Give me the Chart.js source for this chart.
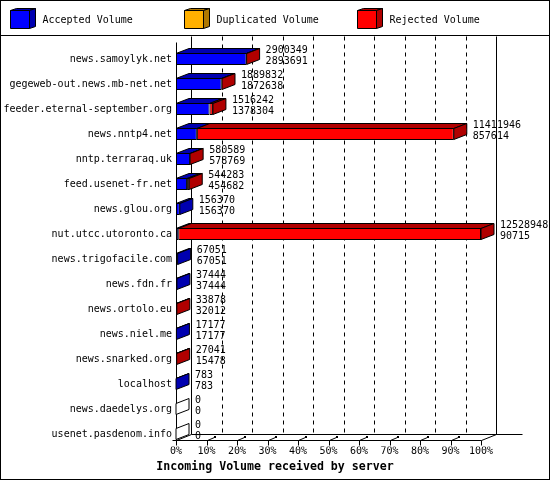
<!DOCTYPE html>
<html>
<head>
<meta charset="utf-8">
<title>Incoming Volume received by server</title>
<script src="https://cdn.jsdelivr.net/npm/chart.js@4.4.0/dist/chart.umd.min.js"></script>
<style>
	html, body { margin: 0; padding: 0; background: #fff; overflow: hidden; }
	canvas { display: block; }
</style>
</head>
<body>
<canvas id="showVolume" width="550" height="480"></canvas>
<script>
// servers, in the order of the report (sorted by accepted volume)
var servers = [
	"news.samoylyk.net",
	"gegeweb-out.news.mb-net.net",
	"feeder.eternal-september.org",
	"news.nntp4.net",
	"nntp.terraraq.uk",
	"feed.usenet-fr.net",
	"news.glou.org",
	"nut.utcc.utoronto.ca",
	"news.trigofacile.com",
	"news.fdn.fr",
	"news.ortolo.eu",
	"news.niel.me",
	"news.snarked.org",
	"localhost",
	"news.daedelys.org",
	"usenet.pasdenom.info"
];

// incoming volume (upper number next to each bar)
var totalVolume = [2900349, 1889832, 1516242, 11411946, 580589, 544283, 156370, 12528948,
	67051, 37444, 33878, 17177, 27041, 783, 0, 0];

// accepted volume (lower number next to each bar)
var acceptedVolume = [2893691, 1872638, 1378304, 857614, 578769, 454682, 156370, 90715,
	67051, 37444, 32012, 17177, 15478, 783, 0, 0];

// nothing duplicated in this report
var duplicatedVolume = [0, 0, 0, 0, 0, 0, 0, 0, 0, 0, 0, 0, 0, 0, 0, 0];

var tickLabels = ["0%", "10%", "20%", "30%", "40%", "50%", "60%", "70%", "80%", "90%", "100%"];

var seriesNames = ["Accepted Volume", "Duplicated Volume", "Rejected Volume"];
var seriesColors = ["#0000ff", "#ffb000", "#ff0000"];
var seriesShades = ["#0000b0", "#b07800", "#b00000"];

var axisTitle = "Incoming Volume received by server";

// rejected = what is left of the incoming volume
var rejectedVolume = totalVolume.map((t, i) => t - acceptedVolume[i] - duplicatedVolume[i]);
var maxVolume = Math.max(...totalVolume);

const monoFont = '"DejaVu Sans Mono", "Liberation Mono", monospace';
const barThick = 12;
const barDepth = { dx: 13, dy: -5 };
const frameDepth = { dx: 15, dy: -6 };

// small drawing helpers
function line(ctx, x1, y1, x2, y2) {
	ctx.beginPath();
	ctx.moveTo(x1, y1);
	ctx.lineTo(x2, y2);
	ctx.stroke();
}

function poly(ctx, pts, fill) {
	ctx.beginPath();
	ctx.moveTo(pts[0][0], pts[0][1]);
	for (var k = 1; k < pts.length; k++) {
		ctx.lineTo(pts[k][0], pts[k][1]);
	}
	ctx.closePath();
	if (fill) {
		ctx.fillStyle = fill;
		ctx.fill();
	}
	ctx.stroke();
}

function crisp(v) {
	return Math.round(v) + 0.5;
}

// 3d box behind the bars: back walls, floor, dashed grid, ticks
var framePlugin = {
	id: "frame3d",
	beforeDraw(chart) {
		var ctx = chart.ctx;
		ctx.save();
		ctx.fillStyle = "#fff";
		ctx.fillRect(0, 0, chart.width, chart.height);
		ctx.restore();
	},
	beforeDatasetsDraw(chart) {
		var ctx = chart.ctx;
		var xs = chart.scales.x, ys = chart.scales.y;
		var dx = frameDepth.dx, dy = frameDepth.dy;
		var left = crisp(xs.getPixelForValue(0));
		var right = crisp(xs.getPixelForValue(maxVolume));
		var floorY = crisp(ys.getPixelForValue(servers.length - 1) + barThick / 2);
		var backY = floorY + dy;
		var topY = 36.5;

		ctx.save();
		ctx.strokeStyle = "#000";
		ctx.lineWidth = 1;

		// walls
		line(ctx, left + dx, topY, left + dx, backY);
		line(ctx, right + dx, topY, right + dx, backY);
		line(ctx, left, topY - dy, left, floorY);

		// floor
		line(ctx, left + dx, backY, right + dx + 26, backY);
		line(ctx, left, floorY, right, floorY);
		line(ctx, left, floorY, left + dx, backY);
		line(ctx, right, floorY, right + dx, backY);
		line(ctx, left - 4, floorY, left, floorY);

		// dashed grid on the back wall
		ctx.setLineDash([4, 4]);
		xs.ticks.forEach((t) => {
			if (t.value > 0 && t.value < maxVolume) {
				var gx = crisp(xs.getPixelForValue(t.value)) + dx;
				line(ctx, gx, topY, gx, backY);
			}
		});
		ctx.setLineDash([]);

		// tick marks on the front edge
		ctx.fillStyle = "#000";
		xs.ticks.forEach((t) => {
			var tx = crisp(xs.getPixelForValue(t.value));
			line(ctx, tx, floorY, tx, floorY + 5);
			if (t.value > 0 && t.value < maxVolume) {
				line(ctx, tx, floorY, tx + 7, floorY - 3);
				ctx.fillRect(tx + 6.5, floorY - 4.5, 2, 2);
			}
		});
		ctx.restore();
	},
	afterDatasetsDraw(chart) {
		var ctx = chart.ctx;
		var xs = chart.scales.x, ys = chart.scales.y;
		var dx = barDepth.dx, dy = barDepth.dy;
		var series = [acceptedVolume, duplicatedVolume, rejectedVolume];

		ctx.save();
		ctx.strokeStyle = "#000";
		ctx.lineWidth = 1;
		ctx.font = "10px " + monoFont;
		ctx.textAlign = "left";
		ctx.textBaseline = "middle";

		for (var i = 0; i < servers.length; i++) {
			var yc = ys.getPixelForValue(i);
			var top = yc - barThick / 2 + 0.5;
			var bot = top + barThick - 1;
			var cum = 0;
			var last = -1;
			var endX = xs.getPixelForValue(0);

			// top faces, one per stacked segment
			for (var d = 0; d < series.length; d++) {
				var v = series[d][i];
				if (v > 0) {
					var x0 = xs.getPixelForValue(cum);
					var x1 = xs.getPixelForValue(cum + v);
					poly(ctx, [[x0, top], [x1, top], [x1 + dx, top + dy], [x0 + dx, top + dy]], seriesShades[d]);
					last = d;
					endX = x1;
				}
				cum += v;
			}

			// side face takes the colour of the last segment
			poly(ctx, [[endX, top], [endX + dx, top + dy], [endX + dx, bot + dy], [endX, bot]],
				last >= 0 ? seriesShades[last] : "#fff");

			// values next to the bar
			ctx.fillStyle = "#000";
			ctx.fillText(String(totalVolume[i]), endX + dx + 6, yc - 9);
			ctx.fillText(String(acceptedVolume[i]), endX + dx + 6, yc + 2);
		}
		ctx.restore();
	},
	afterDraw(chart) {
		var ctx = chart.ctx;
		ctx.save();
		ctx.strokeStyle = "#000";
		ctx.lineWidth = 1;

		// legend with little cubes
		ctx.font = "10px " + monoFont;
		ctx.textAlign = "left";
		ctx.textBaseline = "middle";
		for (var s = 0; s < seriesNames.length; s++) {
			var lx = 10.5 + Math.round(s * 173.5);
			var ly = 10.5;
			poly(ctx, [[lx, ly], [lx + 19, ly], [lx + 25, ly - 2], [lx + 6, ly - 2]], seriesShades[s]);
			poly(ctx, [[lx + 19, ly], [lx + 25, ly - 2], [lx + 25, ly + 16], [lx + 19, ly + 18]], seriesShades[s]);
			poly(ctx, [[lx, ly], [lx + 19, ly], [lx + 19, ly + 18], [lx, ly + 18]], seriesColors[s]);
			ctx.fillStyle = "#000";
			ctx.fillText(seriesNames[s], lx + 32, 20);
		}

		// frame and legend separator
		ctx.strokeRect(0.5, 0.5, chart.width - 1, chart.height - 1);
		line(ctx, 0, 35.5, chart.width, 35.5);

		// axis title, centred on the picture
		ctx.font = "bold 11.6px " + monoFont;
		ctx.textAlign = "center";
		ctx.fillText(axisTitle, chart.width / 2, 466.5);
		ctx.restore();
	}
};

Chart.defaults.font.family = monoFont;
Chart.defaults.font.size = 10;
Chart.defaults.color = "#000";

var volumeCanvas = document.getElementById("showVolume");
var volumeChart = new Chart(volumeCanvas, {
	type: "bar",
	data: {
		labels: servers,
		datasets: seriesNames.map((name, d) => ({
			label: name,
			data: [acceptedVolume, duplicatedVolume, rejectedVolume][d],
			backgroundColor: seriesColors[d],
			borderColor: "#000",
			borderWidth: 1,
			borderSkipped: false,
			inflateAmount: 0,
			barThickness: barThick
		}))
	},
	options: {
		indexAxis: "y",
		responsive: false,
		devicePixelRatio: 1,
		animation: false,
		layout: { padding: { top: 46.5, right: 69, bottom: 0, left: 0 } },
		plugins: {
			legend: { display: false },
			tooltip: { enabled: false },
			title: { display: false }
		},
		scales: {
			x: {
				stacked: true,
				min: 0,
				max: maxVolume,
				grid: { display: false },
				border: { display: false },
				afterBuildTicks: (axis) => {
					axis.ticks = tickLabels.map((t, i) => ({ value: maxVolume * i / (tickLabels.length - 1) }));
				},
				afterFit: (axis) => { axis.height = 33.5; },
				ticks: {
					autoSkip: false,
					maxRotation: 0,
					padding: -6,
					font: { size: 10, lineHeight: 0.6 },
					callback: (v, i) => tickLabels[i]
				}
			},
			y: {
				stacked: true,
				grid: { display: false, drawTicks: false },
				border: { display: false },
				afterFit: (axis) => { axis.width = 176; },
				ticks: { autoSkip: false, padding: 4 }
			}
		}
	},
	plugins: [framePlugin]
});
</script>
</body>
</html>
